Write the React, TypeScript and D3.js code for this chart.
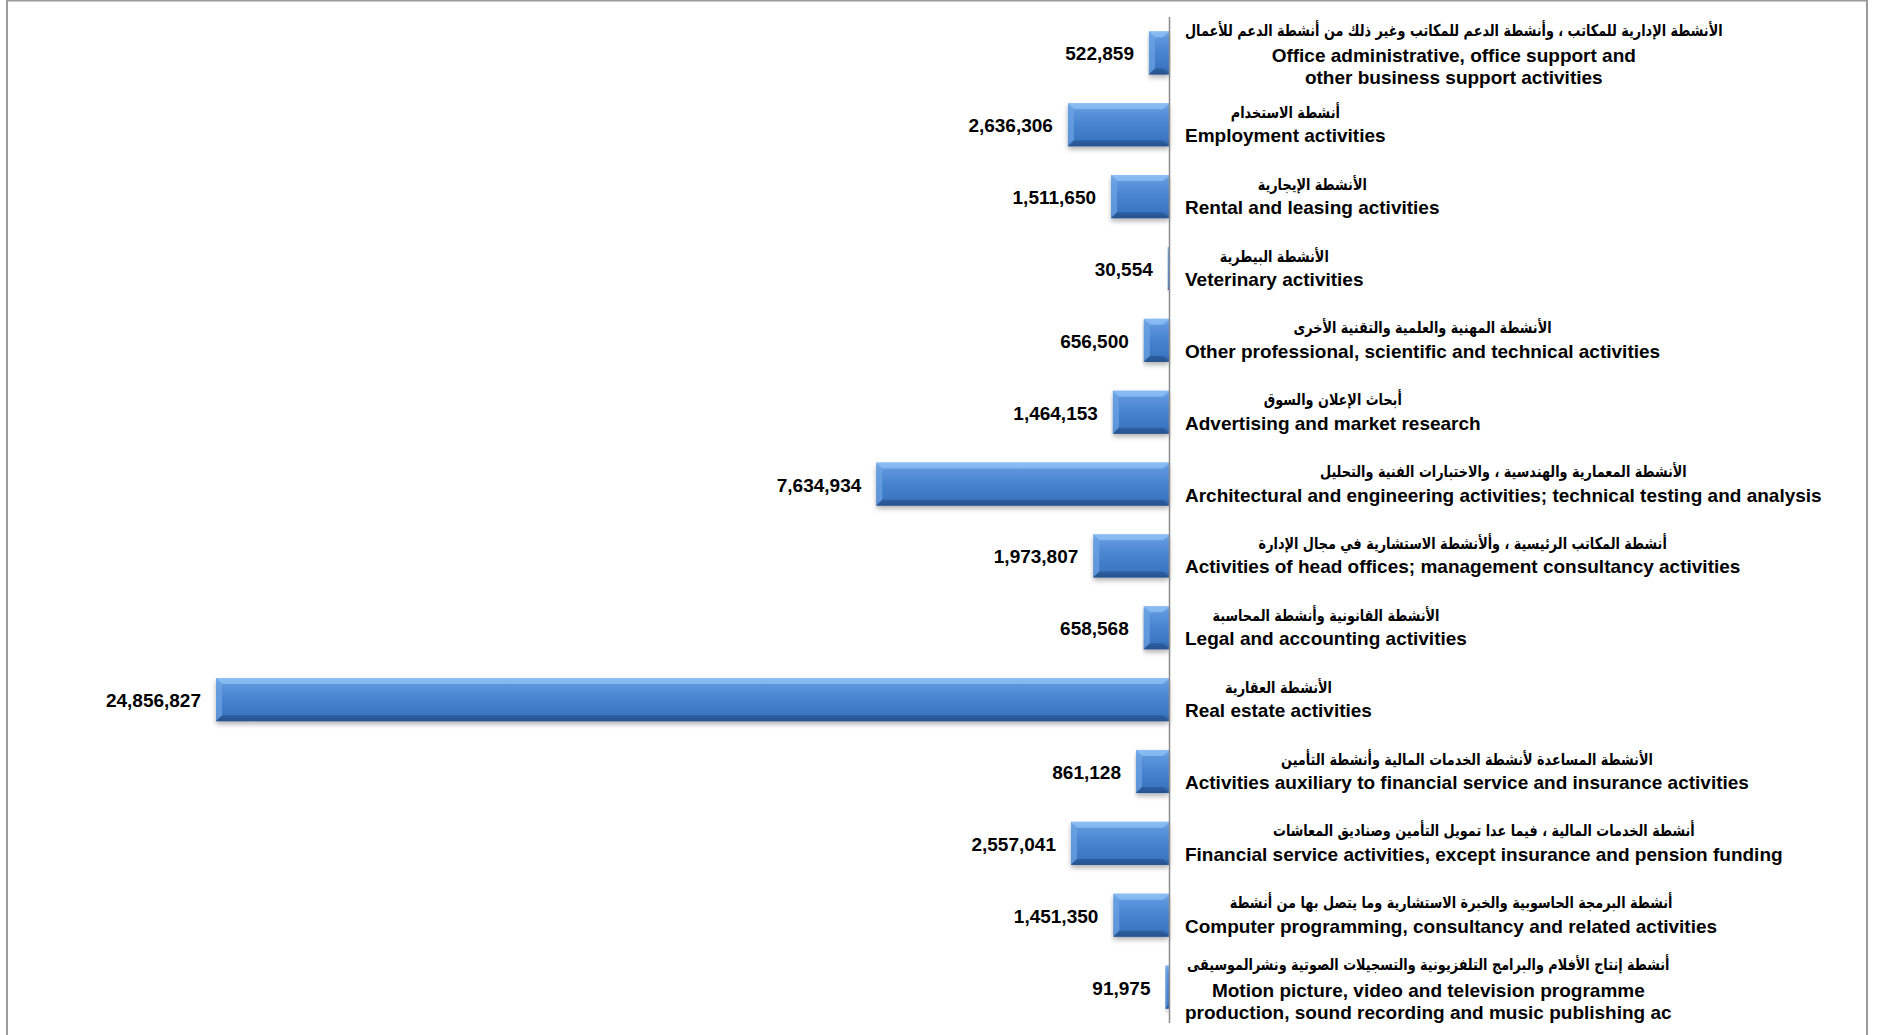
import { scaleBand, scaleLinear, format } from "d3";

const labelsEn: string[][] = [
  ["Office administrative, office support and", "other business support activities"],
  ["Employment activities"],
  ["Rental and leasing activities"],
  ["Veterinary activities"],
  ["Other professional, scientific and technical activities"],
  ["Advertising and market research"],
  ["Architectural and engineering activities; technical testing and analysis"],
  ["Activities of head offices; management consultancy activities"],
  ["Legal and accounting activities"],
  ["Real estate activities"],
  ["Activities auxiliary to financial service and insurance activities"],
  ["Financial service activities, except insurance and pension funding"],
  ["Computer programming, consultancy and related activities"],
  ["Motion picture, video and television programme", "production, sound recording and music publishing ac"],
];

const labelsAr: string[] = [
  "الأنشطة الإدارية للمكاتب ، وأنشطة الدعم للمكاتب وغير ذلك من أنشطة الدعم للأعمال",
  "أنشطة الاستخدام",
  "الأنشطة الإيجارية",
  "الأنشطة البيطرية",
  "الأنشطة المهنية والعلمية والتقنية الأخرى",
  "أبحاث الإعلان والسوق",
  "الأنشطة المعمارية والهندسية ، والاختبارات الفنية والتحليل",
  "أنشطة المكاتب الرئيسية ، وألأنشطة الاستشارية في مجال الإدارة",
  "الأنشطة القانونية وأنشطة المحاسبة",
  "الأنشطة العقارية",
  "الأنشطة المساعدة لأنشطة الخدمات المالية وأنشطة التأمين",
  "أنشطة الخدمات المالية ، فيما عدا تمويل التأمين وصناديق المعاشات",
  "أنشطة البرمجة الحاسوبية والخبرة الاستشارية وما يتصل بها من أنشطة",
  "أنشطة إنتاج الأفلام والبرامج التلفزيونية والتسجيلات الصوتية ونشرالموسيقى",
];

const values: number[] = [
  522859, 2636306, 1511650, 30554, 656500, 1464153, 7634934, 1973807, 658568,
  24856827, 861128, 2557041, 1451350, 91975,
];

const EN_FONT = "bold 19px 'Liberation Sans', Arial, sans-serif";
const AR_FONT = "bold 16px 'DejaVu Sans', sans-serif";
// DejaVu's Arabic runs wide, squeeze it to the narrow look of the original
const AR_SQUEEZE = 0.8;

let ctx: CanvasRenderingContext2D | null = null;
function textWidth(text: string, font: string) {
  if (!ctx) ctx = document.createElement("canvas").getContext("2d");
  if (!ctx) return text.length * 9;
  ctx.font = font;
  return ctx.measureText(text).width;
}

export default function App() {
  const width = 1879;
  const height = 1035;
  const axisX = 1169;
  const labelLeft = 1185;

  const ids = values.map((_, i) => String(i));
  const y = scaleBand<string>()
    .domain(ids)
    .range([17, 1023])
    .paddingInner(0.4)
    .paddingOuter(0.2);
  const x = scaleLinear()
    .domain([0, Math.max(...values)])
    .range([axisX, 216]);
  const fmt = format(",");
  const bh = y.bandwidth();

  return (
    <svg
      width={width}
      height={height}
      style={{ position: "absolute", left: 0, top: 0, background: "#fff" }}
    >
      <defs>
        <linearGradient id="barFill" x1="0" y1="0" x2="0" y2="1">
          <stop offset="0" stopColor="#84b8f0" />
          <stop offset="0.14" stopColor="#5e97de" />
          <stop offset="0.5" stopColor="#4783cf" />
          <stop offset="0.85" stopColor="#3b76c2" />
          <stop offset="1" stopColor="#2a5793" />
        </linearGradient>
        <filter id="shadow" x="-5%" y="-20%" width="110%" height="160%">
          <feDropShadow dx="0" dy="3" stdDeviation="2.5" floodColor="#000" floodOpacity="0.3" />
        </filter>
      </defs>

      {/* frame */}
      <path d="M7,1040 V0.5 H1867 V1040" fill="none" stroke="#9a9a9a" strokeWidth={2} />

      {values.map((v, i) => {
        const top = y(ids[i]) as number;
        const c = top + bh / 2;
        const x0 = x(v);
        const w = axisX - x0;
        const b = Math.min(6, w / 2);
        const en = labelsEn[i];
        const arW = textWidth(labelsAr[i], AR_FONT) * AR_SQUEEZE;
        const blockW = Math.max(arW, ...en.map((t) => textWidth(t, EN_FONT)));
        const cx = labelLeft + blockW / 2;
        const two = en.length > 1;
        return (
          <g key={ids[i]}>
            <g filter="url(#shadow)">
              <rect x={x0} y={top} width={w} height={bh} fill="url(#barFill)" />
            </g>
            <polygon
              points={`${x0},${top} ${x0 + w},${top} ${x0 + w - b},${top + b} ${x0 + b},${top + b}`}
              fill="#8fc0f4"
              opacity={0.75}
            />
            <polygon
              points={`${x0},${top} ${x0 + b},${top + b} ${x0 + b},${top + bh - b} ${x0},${top + bh}`}
              fill="#6ea4e4"
              opacity={0.7}
            />
            <polygon
              points={`${x0},${top + bh} ${x0 + b},${top + bh - b} ${x0 + w - b},${top + bh - b} ${x0 + w},${top + bh}`}
              fill="#24508c"
              opacity={0.6}
            />
            <text
              x={x0 - 15}
              y={c + 7.5}
              textAnchor="end"
              style={{ font: EN_FONT }}
              fill="#000"
            >
              {fmt(v)}
            </text>
            <text
              x={cx}
              y={two ? c - 17 : c - 7}
              textAnchor="middle"
              direction="rtl"
              textLength={arW}
              lengthAdjust="spacingAndGlyphs"
              style={{ font: AR_FONT }}
              fill="#000"
            >
              {labelsAr[i]}
            </text>
            {en.map((t, j) => (
              <text
                key={j}
                x={cx}
                y={(two ? c + 9.5 : c + 17.5) + j * 22}
                textAnchor="middle"
                style={{ font: EN_FONT }}
                fill="#000"
              >
                {t}
              </text>
            ))}
          </g>
        );
      })}

      <line x1={axisX + 0.5} x2={axisX + 0.5} y1={17} y2={1023} stroke="#8a8a8a" strokeWidth={1.5} />
    </svg>
  );
}
